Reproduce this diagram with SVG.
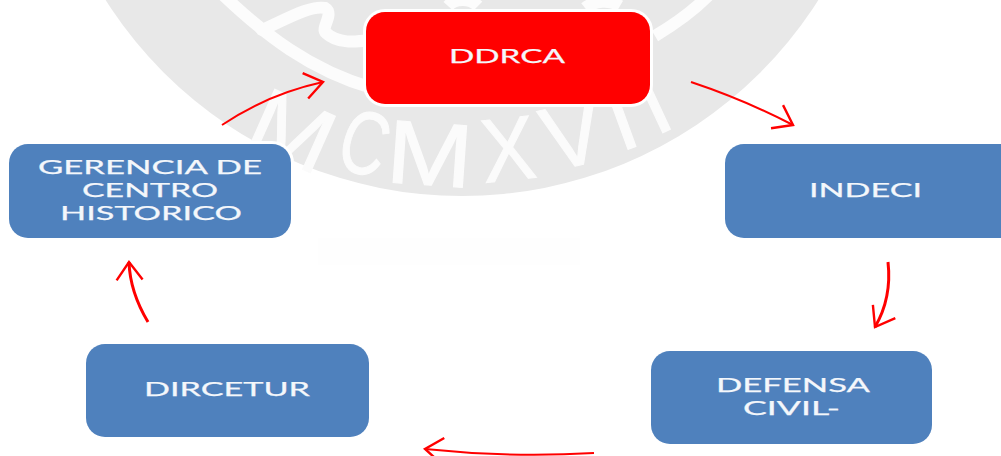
<svg xmlns="http://www.w3.org/2000/svg" width="1001" height="456" viewBox="0 0 1001 456">
<style>
.box{fill:#4f81bd;stroke:#fff;stroke-width:6;paint-order:stroke}
.red{fill:#f00}
.lbl{font-family:Lato,"Liberation Sans",sans-serif;font-size:20px;fill:#f4f7fb;stroke:#f4f7fb;stroke-width:.25}
.wm{fill:none;stroke:#fcfcfc;stroke-width:12}
.wt{font-family:"Liberation Sans",Arial,sans-serif;font-size:90px;fill:#fbfbfb;stroke:#fbfbfb;stroke-width:1;text-anchor:middle}
.arr{fill:none;stroke:#f00;stroke-width:2;marker-end:url(#head)}
.thick{stroke-width:3}
</style>
<defs>
<marker id="head" markerUnits="userSpaceOnUse" markerWidth="32" markerHeight="32" refX="24" refY="16" orient="auto" overflow="visible">
<path d="M6,3 L24,16 L6,29" fill="none" stroke="#f00" stroke-width="2.4"/>
</marker>
</defs>
<rect width="1001" height="456" fill="#fff"/>
<g id="watermark">
<circle cx="462" cy="-226" r="422" fill="#e8e8e8"/>
<path class="wm" d="M222,-6 C265,35 310,70 372,88"/>
<path class="wm" d="M655,36 C675,24 692,12 708,-4"/>
<path class="wm" stroke-linecap="round" d="M262,30 C285,20 310,5 325,8 C335,14 320,28 326,33 C338,44 355,42 370,40"/>
<path class="wm" d="M448,6 C455,-2 470,-2 478,6"/>
<path class="wm" d="M585,8 C595,0 610,0 620,6"/>
<text class="wt" transform="translate(293,130) rotate(24) scale(1.1,1)" y="32">M</text>
<text class="wt" transform="translate(365,142) rotate(17) scale(.72,1)" y="32">C</text>
<text class="wt" transform="translate(430,153) rotate(4) scale(1.15,1)" y="32">M</text>
<text class="wt" transform="translate(508,148) rotate(-6) scale(.9,1)" y="32">X</text>
<text class="wt" transform="translate(572,134) rotate(-13)" y="32">V</text>
<text class="wt" transform="translate(621,118) rotate(-20)" y="32">I</text>
<text class="wt" transform="translate(653,102) rotate(-25)" y="32">I</text>
<rect x="318" y="238" width="262" height="27" fill="#fefefe"/>
</g>
<g id="connectors">
<path class="arr" d="M222,125 Q268,94 323,82"/>
<path class="arr" d="M691,82 Q745,100 793,125"/>
<path class="arr thick" d="M888,262 Q892,298 875,327"/>
<path class="arr" d="M594,453 Q510,458 425,449"/>
<path class="arr thick" d="M148,322 Q130,292 129,262"/>
</g>
<g id="node-ddrca">
<rect class="box red" x="366" y="12" width="284" height="92" rx="19"/>
<text class="lbl" x="449" y="63" textLength="116" lengthAdjust="spacingAndGlyphs">DDRCA</text>
</g>
<g id="node-indeci">
<rect class="box" x="725" y="144" width="300" height="94" rx="19"/>
<text class="lbl" x="809" y="197" textLength="113" lengthAdjust="spacingAndGlyphs">INDECI</text>
</g>
<g id="node-defensa-civil">
<rect class="box" x="651" y="351" width="281" height="93" rx="19"/>
<text class="lbl" x="716" y="392" textLength="154" lengthAdjust="spacingAndGlyphs">DEFENSA</text>
<text class="lbl" x="743" y="415" textLength="97" lengthAdjust="spacingAndGlyphs">CIVIL-</text>
</g>
<g id="node-dircetur">
<rect class="box" x="86" y="344" width="283" height="93" rx="19"/>
<text class="lbl" x="144" y="396" textLength="166" lengthAdjust="spacingAndGlyphs">DIRCETUR</text>
</g>
<g id="node-gerencia">
<rect class="box" x="9" y="144" width="282" height="94" rx="19"/>
<text class="lbl" x="38" y="174" textLength="224" lengthAdjust="spacingAndGlyphs">GERENCIA DE</text>
<text class="lbl" x="82" y="197" textLength="136" lengthAdjust="spacingAndGlyphs">CENTRO</text>
<text class="lbl" x="60" y="220" textLength="182" lengthAdjust="spacingAndGlyphs">HISTORICO</text>
</g>
</svg>
